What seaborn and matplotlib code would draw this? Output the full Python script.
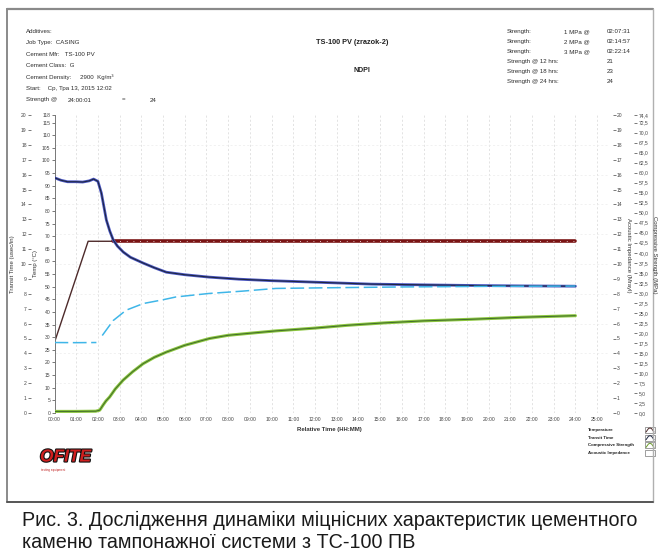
import numpy as np
import pandas as pd
import matplotlib
matplotlib.use("Agg")
import matplotlib.pyplot as plt
import matplotlib.patheffects as pe
from matplotlib.ticker import FixedLocator, FuncFormatter
from matplotlib.lines import Line2D
from matplotlib.patches import Rectangle
import seaborn as sns

# ---- data (time in hours) ----
temp_hours = [0.0, 1.55, 2.7, 24.0]
temp_c = [28.0, 68.0, 68.0, 68.0]

transit_hours = [0.0, 0.3, 0.6, 1.0, 1.3, 1.6, 1.8, 2.0, 2.16, 2.39, 2.55, 2.71, 2.9,
                 3.17, 3.5, 4.09, 4.6, 5.15, 6.0, 7.12, 8.5, 10.0, 12.0, 14.6, 17.0,
                 19.2, 21.5, 24.0]
transit_us = [15.79, 15.62, 15.52, 15.52, 15.5, 15.58, 15.7, 15.55, 14.76, 12.95, 12.2,
              11.6, 11.2, 10.8, 10.45, 10.06, 9.75, 9.45, 9.28, 9.12, 8.98, 8.88, 8.78,
              8.65, 8.6, 8.56, 8.53, 8.51]

strength_hours = [0.0, 1.0, 1.9, 2.08, 2.12, 2.24, 2.37, 2.54, 2.8, 3.16, 3.6, 4.08,
                  4.6, 5.15, 6.0, 7.14, 8.0, 8.98, 10.2, 12.0, 13.5, 15.2, 17.0, 19.2,
                  21.5, 24.0]
strength_mpa = [0.4, 0.4, 0.45, 0.7, 1.0, 2.0, 3.0, 4.0, 6.0, 8.2, 10.3, 12.3, 13.9,
                15.2, 16.9, 18.6, 19.4, 19.9, 20.5, 21.2, 21.9, 22.5, 23.0, 23.4, 23.9,
                24.3]

impedance_segment = [0, 0, 0, 1, 1, 1, 1, 1, 1, 1, 1, 1, 1, 1, 1, 1]
impedance_hours = [0.0, 1.0, 1.93, 2.2, 2.7, 3.3, 4.1, 5.0, 5.6, 7.1, 8.67, 10.2, 12.3,
                   16.0, 20.0, 24.0]
impedance_mrayl = [4.73, 4.72, 4.73, 5.2, 6.2, 6.9, 7.35, 7.6, 7.79, 8.02, 8.18, 8.36,
                   8.4, 8.46, 8.5, 8.52]

hour_labels = [f"{h:02d}:00" for h in range(26)]
temp_ticks = [0, 5, 10, 15, 20, 25, 30, 35, 40, 45, 50, 55, 60, 65, 70, 75, 80, 85, 90,
              95, 100, 105, 110, 115, 118]
transit_ticks = list(range(0, 21))
impedance_ticks = list(range(0, 21))
strength_ticks = [0, 2.5, 5, 7.5, 10, 12.5, 15, 17.5, 20, 22.5, 25, 27.5, 30, 32.5, 35,
                  37.5, 40, 42.5, 45, 47.5, 50, 52.5, 55, 57.5, 60, 62.5, 65, 67.5, 70,
                  72.5, 74.4]

W_PX, H_PX = 659, 553


def fx(x):
    return x / W_PX


def fy(y):
    return 1 - y / H_PX


sns.set_style("white")
plt.rcParams['font.family'] = ['Liberation Sans', 'DejaVu Sans']

fig = plt.figure(figsize=(W_PX / 100, H_PX / 100), dpi=100)

left, right, top, bottom = 54.5, 608, 115, 413
ax_temp = fig.add_axes([fx(left), fy(bottom), (right - left) / W_PX, (bottom - top) / H_PX])
ax_temp.patch.set_alpha(0)
ax_tt = ax_temp.twinx()
ax_ai = ax_temp.twinx()
ax_cs = ax_temp.twinx()

temp_df = pd.DataFrame({'hours': temp_hours, 'temp': temp_c})
transit_df = pd.DataFrame({'hours': transit_hours, 'transit': transit_us})
strength_df = pd.DataFrame({'hours': strength_hours, 'strength': strength_mpa})
imp_df = pd.DataFrame({'hours': impedance_hours, 'imp': impedance_mrayl,
                       'seg': impedance_segment})

# temperature
sns.lineplot(data=temp_df, x='hours', y='temp', ax=ax_temp, color='#4d2a2a',
             linewidth=1.0, estimator=None, sort=False, legend=False)
plateau = temp_df[temp_df['hours'] >= 2.7]
sns.lineplot(data=plateau, x='hours', y='temp', ax=ax_temp, color='#7a1414',
             linewidth=2.6, estimator=None, sort=False, legend=False)
sns.lineplot(data=plateau, x='hours', y='temp', ax=ax_temp, color='white',
             linewidth=0.6, linestyle=(0, (1, 7)), estimator=None, sort=False, legend=False)

# acoustic impedance (broken light blue)
for seg, part in imp_df.groupby('seg'):
    sns.lineplot(data=part, x='hours', y='imp', ax=ax_ai, color='#3fb6e8',
                 linewidth=1.1, linestyle=(0, (9, 3)), estimator=None, sort=False,
                 legend=False)

# transit time
sns.lineplot(data=transit_df, x='hours', y='transit', ax=ax_tt, color='#4b57c4',
             linewidth=2.0, estimator=None, sort=False, legend=False)
sns.lineplot(data=transit_df, x='hours', y='transit', ax=ax_tt, color='#1e2640',
             linewidth=0.8, estimator=None, sort=False, legend=False)

# compressive strength
sns.lineplot(data=strength_df, x='hours', y='strength', ax=ax_cs, color='#8cc63f',
             linewidth=2.2, estimator=None, sort=False, legend=False)
sns.lineplot(data=strength_df, x='hours', y='strength', ax=ax_cs, color='#3f6b2a',
             linewidth=0.7, estimator=None, sort=False, legend=False)

tick_kw = dict(labelsize=3.6, length=2.2, width=0.5, colors='#444444', pad=0.8)

ax_temp.set_xlim(0, 25.5)
ax_temp.set_ylim(0, 118)
ax_temp.set_xticks(range(26))
ax_temp.set_xticklabels(hour_labels)
ax_temp.yaxis.set_major_locator(FixedLocator(temp_ticks))
ax_temp.set_yticklabels([str(t) for t in temp_ticks])
ax_temp.tick_params(axis='both', **tick_kw)
ax_temp.set_xlabel('')
ax_temp.set_ylabel('')
ax_temp.yaxis.set_minor_locator(FixedLocator([v * 118 / 20 for v in range(2, 21, 2)]))
ax_temp.tick_params(axis='y', which='minor', length=0)
ax_temp.grid(axis='x', which='major', color='#d8d8d8', linewidth=0.5, linestyle=(0, (3, 3)))
ax_temp.grid(axis='y', which='minor', color='#ececec', linewidth=0.5, linestyle=(0, (3, 3)))
for s in ['top', 'right', 'bottom']:
    ax_temp.spines[s].set_visible(False)
ax_temp.spines['left'].set_color('#777777')
ax_temp.spines['left'].set_linewidth(0.7)

ax_tt.set_ylim(0, 20)
ax_tt.yaxis.tick_left()
ax_tt.yaxis.set_label_position('left')
ax_tt.spines['left'].set_position(('outward', 17))
ax_tt.set_yticks(transit_ticks)
ax_tt.tick_params(axis='y', **tick_kw)
ax_tt.set_ylabel('')
for s in ax_tt.spines.values():
    s.set_visible(False)

ax_ai.set_ylim(0, 20)
ax_ai.spines['right'].set_position(('outward', 3.5))
ax_ai.set_yticks(impedance_ticks)
ax_ai.tick_params(axis='y', **tick_kw)
ax_ai.set_ylabel('')
for s in ax_ai.spines.values():
    s.set_visible(False)

ax_cs.set_ylim(0, 74.4)
ax_cs.spines['right'].set_position(('outward', 19))
ax_cs.yaxis.set_major_locator(FixedLocator(strength_ticks))
ax_cs.yaxis.set_major_formatter(FuncFormatter(lambda v, _: f"{v:.1f}".replace('.', ',')))
ax_cs.tick_params(axis='y', **tick_kw)
ax_cs.set_ylabel('')
for s in ax_cs.spines.values():
    s.set_visible(False)

# axis titles
lab_kw = dict(fontsize=4.3, color='#333333', va='center', ha='center')
fig.text(fx(13), fy(264), 'Transit Time (usec/in)', rotation=90, **lab_kw)
fig.text(fx(36), fy(264), 'Temp (°C)', rotation=90, **lab_kw)
fig.text(fx(628), fy(255), 'Acoustic Impedance (Mrayl)', rotation=270, **lab_kw)
fig.text(fx(654), fy(255), 'Compressive Strength (MPa)', rotation=270, **lab_kw)
fig.text(fx(329), fy(429), 'Relative Time (HH:MM)', fontsize=4.3, fontweight='bold',
         color='#333333', ha='center', va='center')

# header block
hdr = dict(fontsize=4.4, color='#2b2b2b', va='center', ha='left')
left_lines = ['Additives:', 'Job Type:  CASING', 'Cement Mfr:   TS-100 PV',
              'Cement Class:  G', 'Cement Density:     2900  Kg/m³',
              'Start:    Ср, Тра 13, 2015 12:02']
for i, line in enumerate(left_lines):
    fig.text(fx(26), fy(31.5 + 11.4 * i), line, **hdr)
fig.text(fx(26), fy(100), 'Strength @', **hdr)
fig.text(fx(68), fy(100), '24:00:01', **hdr)
fig.text(fx(122), fy(100), '=', **hdr)
fig.text(fx(150), fy(100), '24', **hdr)

fig.text(fx(352), fy(43), 'TS-100 PV (zrazok-2)', fontsize=5.3, fontweight='bold',
         color='#222222', ha='center', va='center')
fig.text(fx(362), fy(71), 'NDPI', fontsize=5.0, fontweight='bold', color='#222222',
         ha='center', va='center')

right_rows = [('Strength:', '1 MPa @', '02:07:31'), ('Strength:', '2 MPa @', '02:14:57'),
              ('Strength:', '3 MPa @', '02:22:14'), ('Strength @ 12 hrs:', '', '21'),
              ('Strength @ 18 hrs:', '', '23'), ('Strength @ 24 hrs:', '', '24')]
for i, (a, b, c) in enumerate(right_rows):
    yy = fy(31.5 + 10 * i)
    fig.text(fx(507), yy, a, **hdr)
    fig.text(fx(590), yy, b, fontsize=4.4, color='#2b2b2b', va='center', ha='right')
    fig.text(fx(607), yy, c, **hdr)

# legend block
legend_rows = [('Temperature', '#4d2a2a'), ('Transit Time', '#1e2640'),
               ('Compressive Strength', '#6a9a2a'), ('Acoustic Impedance', None)]
for i, (name, col) in enumerate(legend_rows):
    yc = 430 + 7.7 * i
    fig.text(fx(588), fy(yc), name, fontsize=3.2, fontweight='bold', color='#222222',
             ha='left', va='center')
    fig.patches.append(Rectangle((fx(645), fy(yc + 3)), 10 / W_PX, 6 / H_PX,
                                 transform=fig.transFigure, fill=False,
                                 edgecolor='#777777', linewidth=0.5))
    if col is not None:
        fig.lines.append(Line2D([fx(646), fx(648.5), fx(650), fx(651.5), fx(654)],
                                [fy(yc + 2), fy(yc - 1.5), fy(yc - 2), fy(yc - 1.5), fy(yc + 2)],
                                transform=fig.transFigure, color=col, linewidth=0.7))

# logo
logo = fig.text(fx(40), fy(457), 'OFITE', fontsize=12.5, fontweight='bold', fontstyle='italic',
                color='#d01f1f', ha='left', va='center')
logo.set_path_effects([pe.withStroke(linewidth=1.6, foreground='#111111')])
fig.text(fx(41), fy(470), 'testing equipment', fontsize=2.2, color='#c02020',
         ha='left', va='center')

# frame and caption rule
fig.lines.append(Line2D([fx(7), fx(653)], [fy(9), fy(9)], transform=fig.transFigure,
                        color='#8a8a8a', linewidth=1.6))
fig.lines.append(Line2D([fx(7), fx(7)], [fy(9), fy(502)], transform=fig.transFigure,
                        color='#8a8a8a', linewidth=1.4))
fig.lines.append(Line2D([fx(653), fx(653)], [fy(9), fy(502)], transform=fig.transFigure,
                        color='#b0b0b0', linewidth=1.0))
fig.lines.append(Line2D([fx(7), fx(653)], [fy(502), fy(502)], transform=fig.transFigure,
                        color='#555555', linewidth=1.4))

cap = dict(fontsize=14.2, color='#1a1a1a', ha='left', va='center')
fig.text(fx(22), fy(520), 'Рис. 3. Дослідження динаміки міцнісних характеристик цементного', **cap)
fig.text(fx(22), fy(543), 'каменю тампонажної системи з ТС-100 ПВ', **cap)

fig.savefig('out.png', dpi=100)
